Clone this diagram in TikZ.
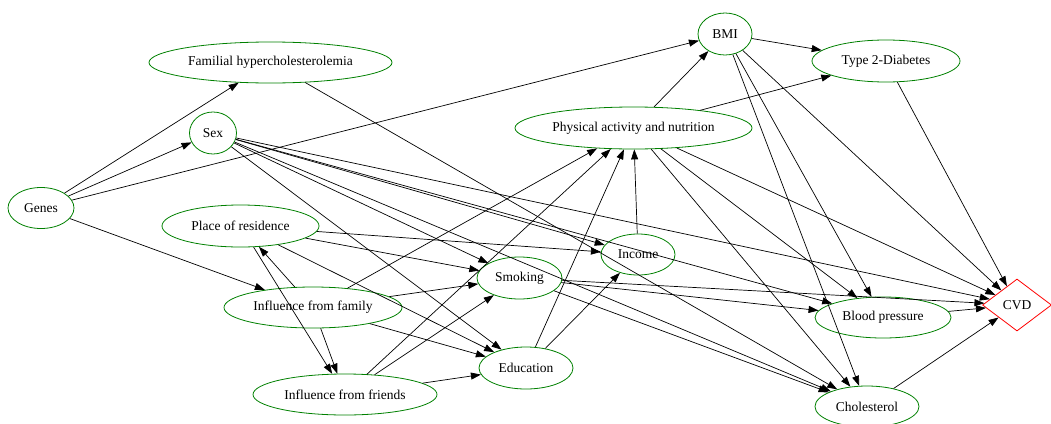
\documentclass[tikz,border=0pt]{standalone}
\usepackage{fontspec}
\setmainfont{Liberation Serif}
\usetikzlibrary{shapes.geometric,arrows.meta}
\begin{document}
\begin{tikzpicture}[x=1pt,y=-1pt,
  var/.style={ellipse,draw=green!50!black,line width=0.8pt,inner sep=0pt,font=\fontsize{13.5}{16}\selectfont},
  outcome/.style={diamond,draw=red,line width=0.8pt,inner sep=0pt,minimum width=69pt,minimum height=52pt,font=\fontsize{13.5}{16}\selectfont},
  arr/.style={-{Triangle[length=10pt,width=7pt]},line width=0.7pt}]
\useasboundingbox (0,0) rectangle (1051,423);


\node[var,minimum width=66pt,minimum height=41pt] (v1) at (41,208) {Genes};
\node[var,minimum width=243pt,minimum height=41pt] (v2) at (270.5,62.5) {Familial hypercholesterolemia};
\node[var,minimum width=47pt,minimum height=42pt] (v3) at (213,133) {Sex};
\node[var,minimum width=157pt,minimum height=42pt] (v4) at (240.5,226) {Place of residence};
\node[var,minimum width=178pt,minimum height=41pt] (v5) at (313,307.5) {Influence from family};
\node[var,minimum width=184pt,minimum height=41pt] (v6) at (345,394.5) {Influence from friends};
\node[var,minimum width=85pt,minimum height=42pt] (v7) at (519.5,278) {Smoking};
\node[var,minimum width=94pt,minimum height=42pt] (v8) at (526,368) {Education};
\node[var,minimum width=74pt,minimum height=41pt] (v9) at (638,254.5) {Income};
\node[var,minimum width=237pt,minimum height=42pt] (v10) at (633.5,128) {Physical activity and nutrition};
\node[var,minimum width=54pt,minimum height=42pt] (v11) at (725,34) {BMI};
\node[var,minimum width=148pt,minimum height=42pt] (v12) at (886,61) {Type 2-Diabetes};
\node[var,minimum width=136pt,minimum height=41pt] (v13) at (883,317.5) {Blood pressure};
\node[var,minimum width=104pt,minimum height=41pt] (v14) at (867,406.5) {Cholesterol};
\node[outcome] (v15) at (1017,305) {CVD};


\draw[arr] (v1) edge (v2) edge (v3) edge (v11) edge (v5);
\draw[arr] (v2) edge (v14);
\draw[arr] (v3) edge (v7) edge (v8) edge (v9) edge (v13) edge (v14) edge (v15);
\draw[arr] (v4) edge (v9) edge (v7) edge (v8) edge (v6);
\draw[arr] (v5) edge (v4) edge (v6) edge (v7) edge (v8) edge (v10);
\draw[arr] (v6) edge (v7) edge (v8) edge (v10);



\draw[arr] (v7) edge (v13) edge (v14) edge (v15);
\draw[arr] (v8) edge (v9) edge (v10);
\draw[arr] (v9) edge (v10);
\draw[arr] (v10) edge (v11) edge (v12) edge (v13) edge (v14) edge (v15);
\draw[arr] (v11) edge (v12) edge (v13) edge (v14) edge (v15);
\draw[arr] (v12) edge (v15);
\draw[arr] (v13) edge (v15);
\draw[arr] (v14) edge (v15);
\end{tikzpicture}
\end{document}
